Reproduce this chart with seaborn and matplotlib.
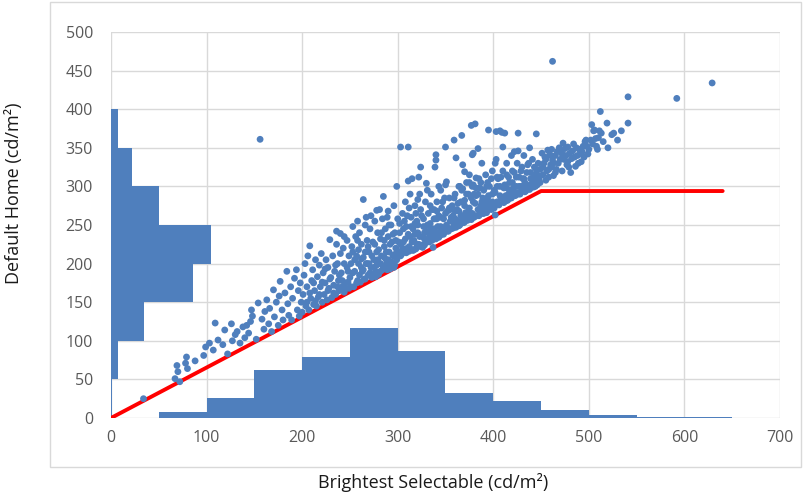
import matplotlib
matplotlib.use("Agg")
import matplotlib.pyplot as plt
from matplotlib.patches import Rectangle
import seaborn as sns
import pandas as pd

# ---------------- data ----------------
# histogram of Brightest Selectable (drawn along the x axis), bins of 50
x_bin_left = [0, 50, 100, 150, 200, 250, 300, 350, 400, 450, 500, 550, 600, 650]
x_bin_height = [0, 8, 26, 62, 79, 117, 87, 33, 22, 11, 4, 1, 1, 0]

# histogram of Default Home (drawn along the y axis), bins of 50
y_bin_bottom = [0, 50, 100, 150, 200, 250, 300, 350, 400, 450]
y_bin_width = [1, 7, 34.5, 86, 104.6, 50, 21.6, 7, 0, 0]

# red limit line
limit_x = [0, 450, 640]
limit_y = [0, 294, 294]

# scatter points (Brightest Selectable, Default Home), grouped by x range
pts_000_150 = [(34, 25), (67, 51), (72, 47), (70, 60), (78, 71), (80, 64), (69, 68), (79, 79),
               (97, 81), (88, 74), (99, 92), (103, 97), (109, 123), (112, 101), (119, 114),
               (122, 83), (126, 122), (130, 108), (135, 97), (138, 118), (140, 104), (144, 110),
               (146, 125), (148, 132), (147, 140), (132, 112), (117, 95), (107, 88), (127, 100),
               (142, 120)]
pts_150_200 = [(152, 102), (154, 149), (156, 361), (158, 128), (160, 115), (161, 138), (163, 153),
               (165, 122), (166, 142), (168, 112), (170, 166), (171, 131), (173, 150), (175, 120),
               (176, 158), (177, 177), (179, 140), (180, 127), (182, 162), (184, 190), (185, 148),
               (186, 133), (188, 170), (189, 127), (190, 155), (192, 181), (194, 192), (195, 140),
               (196, 165), (197, 132), (198, 175), (199, 150)]
pts_200_250 = [(200, 137), (201, 160), (202, 185), (203, 200), (204, 145), (205, 170), (206, 210),
               (207, 140), (208, 223), (209, 155), (210, 178), (211, 192), (212, 147), (213, 165),
               (214, 205), (215, 145), (216, 183), (217, 157), (218, 198), (219, 170), (220, 213),
               (221, 150), (222, 188), (223, 160), (224, 175), (225, 205), (226, 153), (227, 195),
               (228, 168), (229, 231), (230, 182), (231, 156), (232, 210), (233, 172), (234, 190),
               (235, 160), (236, 225), (237, 200), (238, 178), (239, 165), (240, 239), (240, 213),
               (241, 188), (242, 170), (243, 220), (244, 200), (245, 175), (246, 168), (247, 230),
               (248, 190), (249, 210), (249, 168), (236, 242), (244, 235)]
pts_250_300 = [(250, 182), (251, 200), (252, 222), (253, 248), (254, 170), (255, 190), (256, 235),
               (257, 210), (258, 178), (259, 200), (260, 240), (261, 176), (262, 225), (263, 190),
               (264, 283), (264, 208), (265, 180), (266, 250), (267, 260), (267, 200), (268, 230),
               (269, 185), (270, 215), (271, 245), (272, 195), (273, 182), (274, 228), (275, 205),
               (276, 255), (277, 190), (278, 269), (278, 215), (279, 240), (280, 186), (281, 200),
               (282, 232), (283, 210), (284, 258), (285, 287), (285, 195), (286, 222), (287, 245),
               (288, 205), (289, 192), (290, 235), (290, 268), (291, 215), (292, 200), (293, 250),
               (294, 228), (295, 210), (296, 275), (296, 195), (297, 240), (298, 220), (299, 300),
               (299, 205), (300, 258), (253, 215), (258, 230), (262, 195), (266, 215), (270, 200),
               (274, 184), (278, 198), (282, 190), (286, 208), (289, 260), (293, 198), (297, 198),
               (272, 262), (281, 270), (258, 255), (292, 193)]
pts_300_350 = [(301, 215), (302, 240), (303, 351), (304, 212), (305, 265), (306, 228), (307, 215),
               (308, 280), (309, 248), (310, 220), (311, 351), (311, 307), (312, 216), (313, 235),
               (314, 260), (315, 310), (315, 218), (316, 245), (317, 230), (318, 275), (319, 219),
               (320, 255), (321, 240), (322, 312), (322, 225), (323, 290), (324, 325), (324, 222),
               (325, 262), (326, 235), (327, 248), (328, 224), (329, 280), (330, 304), (330, 242),
               (331, 229), (332, 265), (333, 228), (334, 252), (335, 290), (335, 234), (336, 270),
               (337, 221), (338, 245), (339, 325), (339, 258), (340, 341), (340, 334), (340, 232),
               (341, 280), (342, 240), (343, 262), (344, 236), (345, 295), (345, 248), (346, 272),
               (347, 240), (348, 258), (349, 285), (349, 244), (350, 302), (350, 351), (303, 225),
               (307, 255), (312, 272), (317, 218), (321, 283), (326, 221), (331, 295), (336, 240),
               (341, 258), (346, 238), (318, 252), (328, 232), (338, 270), (333, 238), (343, 300),
               (313, 290)]
pts_350_400 = [(351, 306), (351, 248), (352, 268), (353, 242), (354, 285), (355, 255), (356, 245),
               (357, 275), (358, 262), (359, 360), (359, 251), (360, 290), (361, 337), (361, 247),
               (362, 270), (363, 255), (364, 300), (365, 250), (366, 280), (367, 366), (367, 262),
               (368, 328), (368, 297), (369, 253), (370, 319), (370, 275), (371, 258), (372, 290),
               (373, 256), (374, 268), (375, 315), (375, 305), (376, 258), (377, 379), (377, 285),
               (378, 341), (378, 265), (379, 302), (379, 343), (380, 260), (381, 381), (381, 278),
               (382, 311), (382, 298), (383, 262), (384, 349), (384, 290), (385, 270), (386, 264),
               (387, 305), (388, 280), (389, 265), (390, 295), (391, 272), (392, 315), (393, 266),
               (394, 285), (395, 373), (395, 270), (396, 300), (397, 278), (398, 270), (399, 320),
               (399, 290), (355, 270), (360, 258), (365, 300), (370, 254), (375, 262), (380, 290),
               (385, 310), (390, 268), (372, 305), (364, 268), (388, 330), (394, 305)]
pts_400_450 = [(400, 274), (401, 295), (402, 330), (403, 371), (403, 335), (404, 280), (405, 310),
               (406, 276), (407, 300), (407, 372), (408, 285), (409, 370), (410, 351), (410, 320),
               (411, 279), (412, 369), (412, 302), (413, 288), (414, 330), (415, 282), (416, 312),
               (417, 295), (418, 285), (419, 340), (420, 305), (421, 290), (422, 318), (423, 288),
               (424, 300), (425, 330), (426, 346), (426, 369), (426, 292), (427, 312), (428, 290),
               (429, 300), (430, 325), (431, 296), (432, 340), (433, 305), (434, 294), (435, 318),
               (436, 300), (437, 330), (438, 296), (439, 310), (440, 303), (441, 335), (442, 299),
               (443, 315), (444, 307), (445, 368), (445, 322), (446, 302), (447, 330), (448, 310),
               (449, 305), (416, 284), (422, 345), (438, 350), (404, 312), (414, 298), (431, 310),
               (402, 263)]
pts_450_700 = [(451, 343), (452, 315), (453, 330), (454, 338), (455, 308), (456, 320), (457, 347),
               (458, 312), (459, 341), (460, 328), (461, 348), (461, 325), (462, 334), (462, 462),
               (463, 314), (465, 340), (466, 322), (468, 330), (469, 350), (471, 345), (472, 320),
               (473, 356), (474, 335), (475, 349), (477, 328), (478, 351), (478, 332), (480, 343),
               (481, 318), (482, 336), (484, 355), (486, 326), (488, 340), (490, 348), (492, 332),
               (494, 352), (496, 358), (497, 360), (499, 342), (503, 380), (505, 372), (506, 373),
               (508, 352), (510, 363), (512, 397), (513, 369), (515, 358), (519, 382), (524, 367),
               (526, 369), (530, 360), (541, 416), (541, 382), (592, 414), (629, 434), (534, 372),
               (520, 350)]
# extra points filling the dense core of the cloud
pts_core_a = [(205, 150), (208, 162), (212, 175), (214, 152), (218, 160), (221, 176), (224, 193),
              (227, 165), (229, 180), (233, 162), (235, 198), (237, 170), (239, 185), (242, 178),
              (244, 163), (247, 195), (248, 176), (251, 170), (253, 188), (255, 205), (257, 175),
              (259, 218), (260, 185), (262, 206), (264, 192), (266, 180), (268, 200), (269, 222),
              (271, 188), (273, 210), (275, 195), (276, 225), (277, 183), (279, 205), (280, 218),
              (282, 200), (283, 240), (284, 192), (286, 230), (287, 198), (288, 215), (290, 205),
              (291, 250), (292, 225), (294, 202), (295, 238), (297, 212), (298, 230), (300, 210)]
pts_core_b = [(301, 228), (302, 252), (303, 210), (305, 220), (306, 245), (308, 232), (309, 214),
              (310, 262), (311, 238), (312, 222), (314, 248), (315, 228), (316, 217), (318, 238),
              (319, 265), (320, 225), (321, 250), (323, 235), (324, 270), (325, 224), (327, 258),
              (328, 240), (329, 227), (331, 250), (332, 232), (334, 275), (335, 245), (336, 230),
              (338, 258), (339, 238), (341, 268), (342, 248), (343, 234), (345, 260), (346, 245),
              (347, 280), (348, 238), (350, 265), (351, 250), (352, 242), (354, 272), (355, 245),
              (356, 260), (358, 246), (359, 285), (360, 268), (362, 252), (363, 278), (364, 249),
              (366, 262), (367, 295), (368, 255), (370, 282), (371, 266), (373, 258), (374, 290),
              (375, 272), (377, 257), (378, 300), (379, 280), (381, 262), (382, 288), (384, 270),
              (385, 262), (386, 298), (387, 275), (389, 285), (390, 265), (392, 278), (393, 300),
              (395, 288), (396, 272), (398, 310), (399, 280)]
pts_core_c = [(401, 272), (402, 292), (404, 300), (405, 277), (407, 288), (408, 312), (410, 283),
              (411, 298), (413, 281), (414, 315), (416, 290), (417, 305), (419, 285), (420, 320),
              (421, 298), (423, 292), (424, 312), (426, 290), (427, 300), (429, 320), (430, 295),
              (432, 310), (433, 293), (435, 302), (436, 328), (437, 298), (439, 318), (440, 299),
              (442, 308), (443, 325), (444, 300), (446, 315), (447, 306), (449, 322), (452, 325),
              (455, 335), (458, 322), (460, 340), (463, 330), (465, 318), (467, 345), (470, 335),
              (472, 342), (476, 340), (479, 325), (483, 346), (485, 338), (487, 350), (489, 330),
              (491, 342), (493, 345), (495, 338), (498, 352), (500, 348), (502, 360), (504, 355),
              (507, 362), (509, 348), (511, 372)]

x_ticks = [0, 100, 200, 300, 400, 500, 600, 700]
y_ticks = [0, 50, 100, 150, 200, 250, 300, 350, 400, 450, 500]
x_title = "Brightest Selectable (cd/m²)"
y_title = "Default Home (cd/m²)"

# ---------------- drawing ----------------
sns.set_theme(style="white")
plt.rcParams["font.family"] = ["Open Sans", "DejaVu Sans"]

blue = "#4f7fbd"
grid_c = "#d9d9d9"

all_pts = (pts_000_150 + pts_150_200 + pts_200_250 + pts_250_300 + pts_300_350
           + pts_350_400 + pts_400_450 + pts_450_700 + pts_core_a + pts_core_b + pts_core_c)
df = pd.DataFrame(all_pts, columns=["bright", "home"])

fig = plt.figure(figsize=(8.04, 4.95), dpi=100)
ax = fig.add_axes([111 / 804, 1 - 418 / 495, (780 - 111) / 804, (418 - 32) / 495])

ax.bar(x_bin_left, x_bin_height, width=50, align="edge", color=blue, linewidth=0, zorder=2)
ax.barh(y_bin_bottom, y_bin_width, height=50, align="edge", color=blue, linewidth=0, zorder=2)

sns.lineplot(x=limit_x, y=limit_y, color="#ff0000", linewidth=2.8, ax=ax, zorder=3)
sns.scatterplot(data=df, x="bright", y="home", s=24, color=blue, edgecolor="none",
                linewidth=0, ax=ax, zorder=4)

ax.set_xlim(0, 700)
ax.set_ylim(0, 500)
ax.set_xticks(x_ticks)
ax.set_yticks(y_ticks)
ax.grid(True, color=grid_c, linewidth=1.0, zorder=0)
ax.set_axisbelow(True)
for s in ax.spines.values():
    s.set_visible(False)
ax.tick_params(axis="both", length=0, labelsize=11.5, labelcolor="#595959")
ax.tick_params(axis="x", pad=9)
ax.tick_params(axis="y", pad=13)
ax.set_xlabel("")
ax.set_ylabel("")

fig.add_artist(Rectangle((50 / 804, 1 - 467 / 495), (801 - 50) / 804, (467 - 2) / 495,
                         transform=fig.transFigure, fill=False, edgecolor=grid_c, linewidth=1.0))

fig.text(433 / 804, 1 - 483 / 495, x_title, ha="center", va="center", fontsize=13, color="#1a1a1a")
fig.text(14 / 804, 1 - 193 / 495, y_title, ha="center", va="center", rotation=90,
         fontsize=13, color="#1a1a1a")

fig.savefig("out.png", dpi=100)
